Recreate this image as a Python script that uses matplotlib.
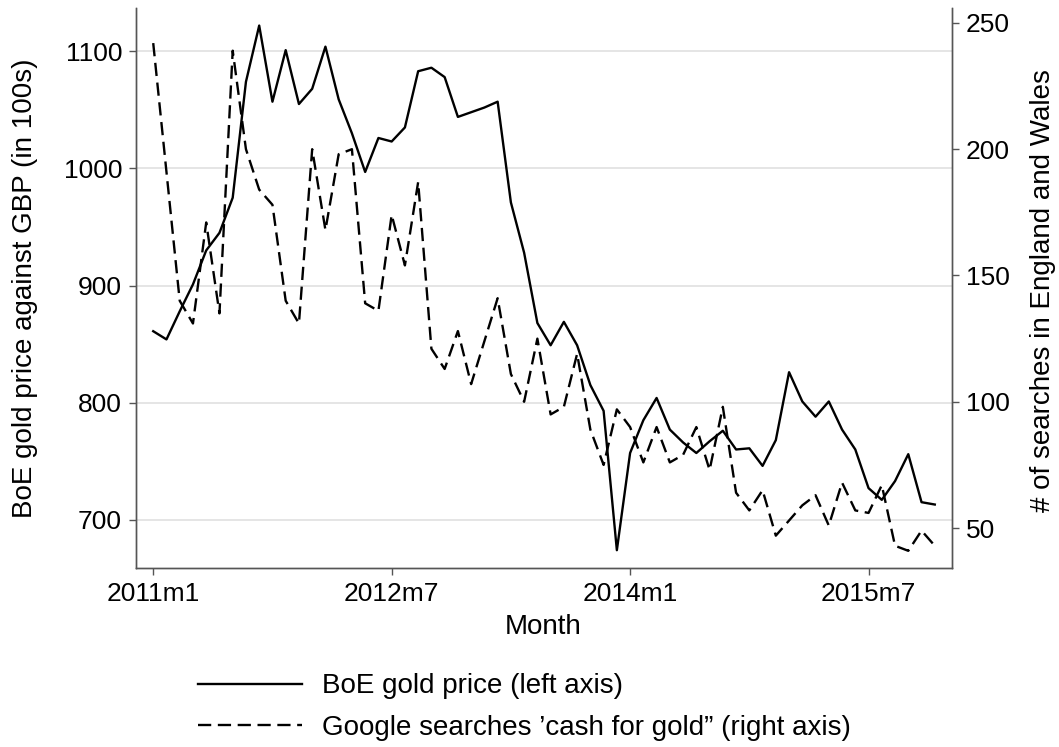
import matplotlib
matplotlib.use("Agg")
import matplotlib.pyplot as plt
import numpy as np
import pandas as pd

plt.rcParams["font.family"] = ["Liberation Sans", "DejaVu Sans"]

# monthly series, 2011m1 .. 2015m12
months = pd.period_range("2011-01", periods=60, freq="M")
gold_price = [861, 854, 878, 901, 930, 945, 975, 1074, 1122, 1057,
              1101, 1055, 1068, 1104, 1059, 1030, 997, 1026, 1023, 1035,
              1083, 1086, 1078, 1044, 1048, 1052, 1057, 971, 928, 868,
              849, 869, 849, 815, 793, 674, 757, 785, 804, 777,
              766, 757, 767, 776, 760, 761, 746, 768, 826, 801,
              788, 801, 777, 760, 727, 717, 733, 756, 715, 713]
searches = [242, 191, 140, 131, 171, 135, 239, 200, 184, 178,
            140, 131, 200, 168, 198, 200, 139, 136, 174, 154,
            187, 121, 113, 128, 107, 124, 141, 111, 100, 125,
            95, 98, 119, 89, 75, 97, 90, 76, 90, 76,
            79, 90, 73, 98, 64, 57, 65, 47, 53, 59,
            63, 51, 68, 57, 56, 67, 43, 41, 49, 43]

tick_idx = [0, 18, 36, 54]
tick_labels = [f"{months[i].year}m{months[i].month}" for i in tick_idx]
left_ticks = [700, 800, 900, 1000, 1100]
right_ticks = [50, 100, 150, 200, 250]

x = np.arange(len(months))
spine_col = "#555555"
W, H = 1059, 747

fig = plt.figure(figsize=(W / 100, H / 100), dpi=100)
ax = fig.add_axes([136 / W, 1 - 568 / H, (952 - 136) / W, (568 - 8) / H])
ax2 = ax.twinx()

for y in left_ticks:
    ax.axhline(y, color="#e3e3e3", linewidth=1.3, zorder=0)

(l1,) = ax.plot(x, gold_price, color="black", linewidth=1.7, label="BoE gold price (left axis)")
(l2,) = ax2.plot(x, searches, color="black", linewidth=1.7,
                 label="Google searches \u2019cash for gold\u201d (right axis)")
l2.set_dashes([5.6, 2.8])

ax.set_xlim(-1.3, 60.3)
ax.set_ylim(658.8, 1137)
ax2.set_ylim(34.2, 255.9)

ax.set_xticks(tick_idx)
ax.set_xticklabels(tick_labels)
ax.set_yticks(left_ticks)
ax2.set_yticks(right_ticks)

for a in (ax, ax2):
    a.spines["top"].set_visible(False)
    for s in ("left", "right", "bottom"):
        a.spines[s].set_color(spine_col)
        a.spines[s].set_linewidth(1.0)
    a.tick_params(axis="both", direction="out", length=5, width=1.0,
                  color=spine_col, labelsize=19, pad=5)

fig.text(25 / W, 1 - 288 / H, "BoE gold price against GBP (in 100s)",
         rotation=90, ha="center", va="center", fontsize=20)
fig.text(1043 / W, 1 - 291 / H, "# of searches in England and Wales",
         rotation=90, ha="center", va="center", fontsize=20)
fig.text(543 / W, 1 - 627 / H, "Month", ha="center", va="center", fontsize=20)

fig.legend(handles=[l1, l2], loc="center left",
           bbox_to_anchor=(198 / W, 1 - 707 / H),
           frameon=False, fontsize=20, handlelength=3.75, handletextpad=0.7,
           labelspacing=0.55, borderpad=0, borderaxespad=0)

fig.savefig("out.png", dpi=100)
